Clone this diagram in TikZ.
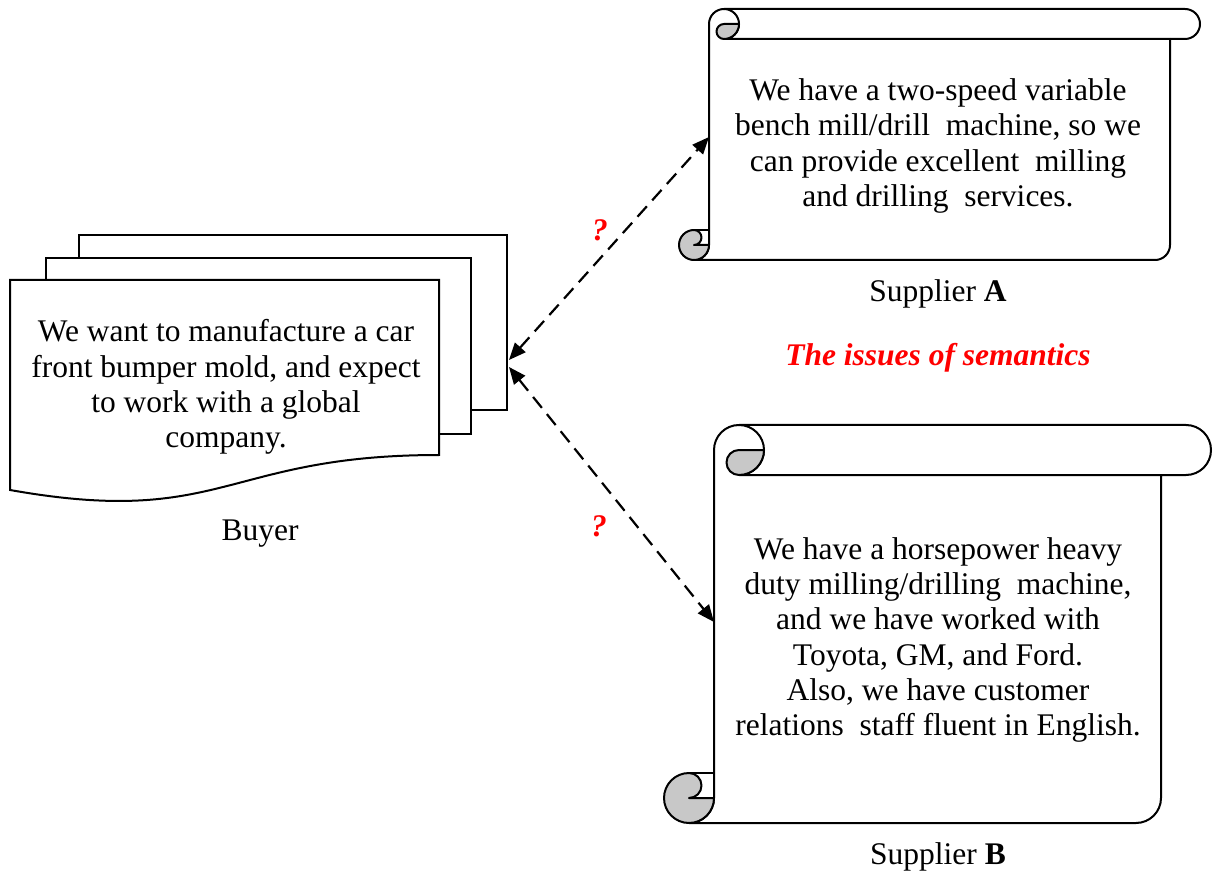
\documentclass[tikz,border=0pt]{standalone}
\usepackage{fontspec}
\setmainfont{Liberation Serif}
\usetikzlibrary{arrows.meta}

\definecolor{curlgray}{RGB}{200,200,200}
\definecolor{semred}{RGB}{255,0,0}

% Scroll drawn from its left edge, top edge (given downwards), width, height and roll size
\newcommand{\drawscroll}[5]{%
  \pgfmathsetmacro{\scrL}{#1}%
  \pgfmathsetmacro{\scrT}{-(#2)}%
  \pgfmathsetmacro{\scrR}{#1+#3}%
  \pgfmathsetmacro{\scrB}{-(#2)-(#4)}%
  \pgfmathsetmacro{\scrC}{#5}%
  \pgfmathsetmacro{\scrH}{#5/2}%
  \pgfmathsetmacro{\scrQ}{#5/4}%
  % sheet with the top roll
  \draw[scrollline, fill=white]
    ({\scrL+\scrH},\scrB) -- ({\scrR-\scrC-\scrH},\scrB)
    arc[start angle=-90, end angle=0, radius=\scrH]
    -- ({\scrR-\scrC},{\scrT-\scrC}) -- ({\scrR-\scrH},{\scrT-\scrC})
    arc[start angle=-90, end angle=90, radius=\scrH]
    -- ({\scrL+\scrC+\scrH},\scrT)
    arc[start angle=90, end angle=180, radius=\scrH]
    -- ({\scrL+\scrC},{\scrB+\scrH})
    arc[start angle=0, end angle=-90, radius=\scrH] -- cycle;
  % top curl and lower edge of the roll
  \draw[scrollline] ({\scrL+\scrC+\scrH},\scrT)
    arc[start angle=90, end angle=-90, radius=\scrH]
    -- ({\scrR-\scrC},{\scrT-\scrC});
  \draw[scrollline, fill=curlgray] ({\scrL+\scrC+\scrH},{\scrT-\scrH}) -- ++(\scrH,0)
    arc[start angle=0, end angle=-90, radius=\scrH]
    arc[start angle=-90, end angle=-270, radius=\scrQ] -- cycle;
  % bottom curl
  \draw[scrollline, fill=curlgray] ({\scrL+\scrH},{\scrB+\scrH}) -- ++(\scrH,0)
    arc[start angle=0, end angle=-270, radius=\scrH]
    arc[start angle=90, end angle=-90, radius=\scrQ] -- cycle;
  \draw[scrollline] ({\scrL+\scrH},{\scrB+\scrC}) -- ({\scrL+\scrC},{\scrB+\scrC});
}

\begin{document}
\begin{tikzpicture}[x=1pt, y=1pt,
  scrollline/.style={line width=2pt, line join=round, draw=black},
  docline/.style={line width=2pt, line join=miter, draw=black},
  bodytext/.style={inner sep=0pt, align=center, font=\fontsize{31.5}{35.3}\selectfont},
  caption/.style={inner sep=0pt, anchor=base, font=\fontsize{31.5}{35.3}\selectfont},
  redmark/.style={inner sep=0pt, anchor=base, text=semred, font=\fontsize{31.5}{35.3}\selectfont\bfseries\itshape},
  link/.style={line width=2.2pt, dash pattern=on 14pt off 8pt,
    {Triangle[length=17pt, width=14pt]}-{Triangle[length=17pt, width=14pt]}}]

\useasboundingbox (0,0) rectangle (1213,-874);

% buyer's stack of documents
\draw[docline, fill=white] (79,-235) rectangle (507,-410);
\draw[docline, fill=white] (46,-258) rectangle (471,-434);
\draw[docline, fill=white] (10,-280) -- (439,-280) -- (439,-455)
  .. controls (224,-455) and (224,-528) .. (10,-490) -- cycle;
\node[bodytext] (buyertext) at (226,-387)
  {We want to manufacture a car\\front bumper mold, and expect\\to work with a global\\company.};
\node[caption] (buyercap) at (260,-540) {Buyer};

% supplier A
\drawscroll{679}{9}{521}{251}{30}
\node[bodytext] (supAtext) at (938,-146)
  {We have a two-speed variable\\bench mill/drill\ \ machine, so we\\can provide excellent\ \ milling\\and drilling\ \ services.};
\node[caption] (supAcap) at (938,-302) {Supplier \textbf{A}};

% supplier B
\drawscroll{664}{425}{547}{398}{50}
\node[bodytext] (supBtext) at (938,-640)
  {We have a horsepower heavy\\duty milling/drilling\ \ machine,\\and we have worked with\\Toyota, GM, and Ford.\\Also, we have customer\\relations\ \ staff fluent in English.};
\node[caption] (supBcap) at (938,-864) {Supplier \textbf{B}};

\node[redmark] (issues) at (938,-366) {The issues of semantics};

% connector end points on the outlines
\coordinate (buyerA) at (509,-360);
\coordinate (buyerB) at (509,-367);
\coordinate (supA) at (709,-137);
\coordinate (supB) at (714,-622);

\draw[link] (buyerA) -- (supA);
\draw[link] (buyerB) -- (supB);

\node[redmark] (qA) at (600,-241) {?};
\node[redmark] (qB) at (599,-536) {?};

\end{tikzpicture}
\end{document}
